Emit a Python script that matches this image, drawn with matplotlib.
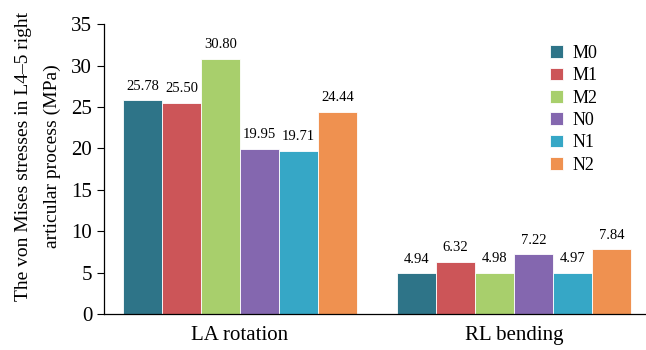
import matplotlib.pyplot as plt
import numpy as np

plt.rcParams['font.family'] = ['Liberation Serif', 'DejaVu Serif']

# data
groups = ['LA rotation', 'RL bending']
series = ['M0', 'M1', 'M2', 'N0', 'N1', 'N2']
m0 = [25.78, 4.94]
m1 = [25.50, 6.32]
m2 = [30.80, 4.98]
n0 = [19.95, 7.22]
n1 = [19.71, 4.97]
n2 = [24.44, 7.84]
values = [m0, m1, m2, n0, n1, n2]
colors = ['#2E7488', '#CC5558', '#A8CF6C', '#8467AF', '#36A7C6', '#EF9150']

fig = plt.figure(figsize=(6.46, 3.5), dpi=100)
ax = fig.add_axes([0.161, 0.103, 0.839, 0.828])

x = np.arange(len(groups))
w = 0.1423
for i, (name, vals, c) in enumerate(zip(series, values, colors)):
    pos = x + (i - 2.5) * w
    ax.bar(pos, vals, width=w, color=c, edgecolor='white', linewidth=0.6, label=name)
    for p, v in zip(pos, vals):
        ax.text(p, v + 0.9, f'{v:.2f}', ha='center', va='bottom', fontsize=10.5)

ax.set_xlim(-0.496, 1.482)
ax.set_ylim(0, 35)
ax.set_yticks(range(0, 36, 5))
ax.set_xticks(x)
ax.set_xticklabels(groups, fontsize=15)
ax.tick_params(axis='y', labelsize=15, length=5, width=0.8, direction='out')
ax.tick_params(axis='x', length=0, pad=9)
ax.spines['top'].set_visible(False)
ax.spines['right'].set_visible(False)
ax.spines['left'].set_linewidth(0.9)
ax.spines['bottom'].set_linewidth(0.9)
ax.set_ylabel('The von Mises stresses in L4–5 right\narticular process (MPa)', fontsize=14, linespacing=1.85)
ax.yaxis.set_label_coords(-0.08, 0.545)

ax.legend(loc='upper right', bbox_to_anchor=(0.94, 0.985), frameon=False, fontsize=13,
          handlelength=0.7, handleheight=0.7, handletextpad=0.5, labelspacing=0.3)

plt.savefig('out.png', dpi=100)
